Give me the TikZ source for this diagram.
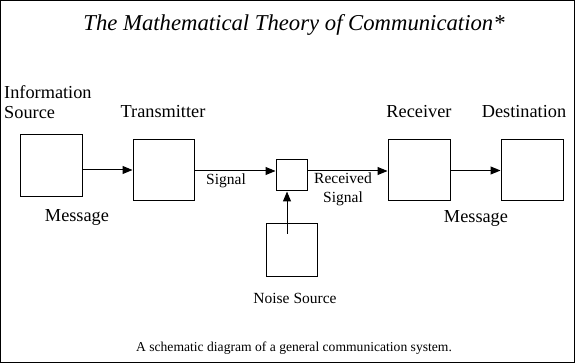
\documentclass[tikz,border=0pt]{standalone}
\usepackage{fontspec}
\setmainfont{Liberation Serif}
\usetikzlibrary{positioning,arrows.meta}

\begin{document}
\begin{tikzpicture}[
    x=1pt, y=-1pt,
    every node/.style={
        inner sep=0pt,
        align=center
    },
    block/.style={
        rectangle,
        draw=black,
        line width=1pt,
        minimum width=62pt,
        minimum height=61pt
    },
    label/.style={
        font=\fontsize{18.3}{20}\selectfont
    },
    small/.style={
        font=\fontsize{15.5}{19}\selectfont
    },
    arrow/.style={
        -{Triangle[length=10pt,width=8pt]},
        line width=1pt
    }
]

\useasboundingbox (0,0) rectangle (575,363);
\draw[line width=1.4pt] (0.7,0.7) rectangle (574.3,362.3);

\node[font=\fontsize{22.7}{26}\selectfont\itshape] (title) at (294,25) {The Mathematical Theory of Communication*};

\node[block, minimum height=62pt] (src) at (51,166) {};
\node[block, minimum width=61pt] (tx) at (163.5,170.5) {};
\node[block, minimum width=31pt, minimum height=31pt] (mix) at (291.5,175.5) {};
\node[block] (rx) at (419,170.5) {};
\node[block] (dst) at (532,170.5) {};
\node[block, minimum width=51pt, minimum height=52pt] (noise) at (291.5,250) {};

\node[label, align=left, anchor=west] (srclbl) at (4,102) {Information\\Source};
\node[label] (txlbl) at (163,112) {Transmitter};
\node[label] (rxlbl) at (419,112) {Receiver};
\node[label] (dstlbl) at (524,112) {Destination};
\node[label] (msg1) at (77,217) {Message};
\node[label] (msg2) at (476,218) {Message};
\node[small] (sig) at (226,181) {Signal};
\node[small] (rsig) at (343,189.5) {Received\\Signal};
\node[small] (noiselbl) at (295,298) {Noise Source};

\node[font=\fontsize{13.6}{15}\selectfont] (caption) at (294,348) {A schematic diagram of a general communication system.};

\coordinate (row) at (0,171);
\coordinate (noisetop) at (287,234);

\draw[arrow] (src.east |- 0,170) -- (tx.west |- 0,170);
\draw[arrow] (tx.east |- row) -- (mix.west |- row);
\draw[arrow] (mix.east |- row) -- (rx.west |- row);
\draw[arrow] (rx) -- (dst);
\draw[arrow] (noisetop) -- (noisetop |- mix.south);

\end{tikzpicture}
\end{document}
